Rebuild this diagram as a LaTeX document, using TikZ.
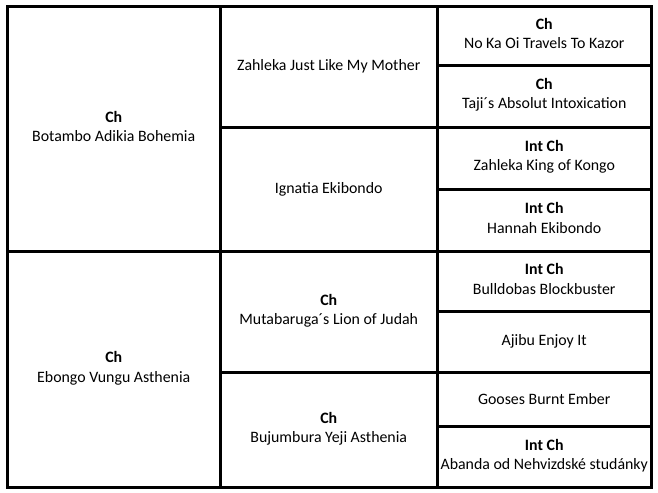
\documentclass[tikz,border=0pt]{standalone}
\usepackage{fontspec}
\setmainfont{Carlito}
\usetikzlibrary{positioning}
\tikzstyle{cell}=[rectangle,draw=black,line width=2.25pt,outer sep=0pt,inner sep=1pt,align=center,font=\fontsize{11.9}{14.3}\selectfont]
\tikzstyle{titled}=[text depth=3.5pt]
\tikzstyle{gen1}=[cell,minimum width=160.125pt]
\tikzstyle{gen2}=[cell,minimum width=162.375pt]
\tikzstyle{gen3}=[cell,minimum width=160.875pt]
\newcommand{\champ}[1]{\textbf{#1}\\}

\begin{document}
\begin{tikzpicture}[x=0.75pt,y=-0.75pt]
\useasboundingbox (0,0) rectangle (658,493);

% first generation
\node (sire) [gen1,titled,minimum height=183.75pt,anchor=north west] at (7,6.5) {\champ{Ch}Botambo Adikia Bohemia} ;
\node (dam) [gen1,titled,minimum height=176.625pt,below=0pt of sire] {\champ{Ch}Ebongo Vungu Asthenia} ;

% second generation
\node (ss) [gen2,minimum height=90.375pt,anchor=north west] at (sire.north east) {Zahleka Just Like My Mother} ;
\node (sd) [gen2,minimum height=93.375pt,below=0pt of ss] {Ignatia Ekibondo} ;
\node (ds) [gen2,titled,minimum height=90.75pt,below=0pt of sd] {\champ{Ch}Mutabaruga´s Lion of Judah} ;
\node (dd) [gen2,titled,minimum height=85.875pt,below=0pt of ds] {\champ{Ch}Bujumbura Yeji Asthenia} ;

% third generation
\node (sss) [gen3,titled,minimum height=43.875pt,anchor=north west] at (ss.north east) {\champ{Ch}No Ka Oi Travels To Kazor} ;
\node (ssd) [gen3,titled,minimum height=46.5pt,below=0pt of sss] {\champ{Ch}Taji´s Absolut Intoxication} ;
\node (sds) [gen3,titled,minimum height=46.5pt,below=0pt of ssd] {\champ{Int Ch}Zahleka King of Kongo} ;
\node (sdd) [gen3,titled,minimum height=46.875pt,below=0pt of sds] {\champ{Int Ch}Hannah Ekibondo} ;
\node (dss) [gen3,titled,minimum height=44.625pt,below=0pt of sdd] {\champ{Int Ch}Bulldobas Blockbuster} ;
\node (dsd) [gen3,minimum height=46.125pt,below=0pt of dss] {Ajibu Enjoy It} ;
\node (dds) [gen3,minimum height=40.125pt,below=0pt of dsd] {Gooses Burnt Ember} ;
\node (ddd) [gen3,titled,minimum height=45.75pt,below=0pt of dds] {\champ{Int Ch}Abanda od Nehvizdské studánky} ;

\end{tikzpicture}
\end{document}
